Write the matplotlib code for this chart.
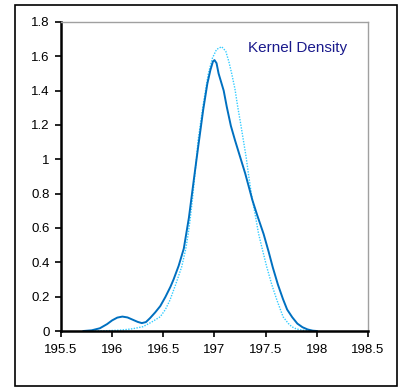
import matplotlib
matplotlib.use("Agg")
import matplotlib.pyplot as plt
from matplotlib.patches import Rectangle
from matplotlib.ticker import FuncFormatter

# kernel density estimate (solid)
kde_x = [195.72, 195.80, 195.88, 195.95, 196.00, 196.05, 196.10, 196.15, 196.20,
         196.25, 196.29, 196.33, 196.37, 196.42, 196.47, 196.52, 196.57, 196.60,
         196.65, 196.70, 196.75, 196.80, 196.84, 196.89, 196.93, 196.96,
         196.985, 197.00, 197.02, 197.04, 197.09, 197.12, 197.16, 197.20, 197.25,
         197.30, 197.34, 197.37, 197.42, 197.48, 197.53, 197.57, 197.62, 197.67,
         197.71, 197.76, 197.81, 197.86, 197.91, 197.96, 198.00]
kde_y = [0.000, 0.004, 0.016, 0.040, 0.062, 0.078, 0.084, 0.079, 0.066,
         0.053, 0.046, 0.052, 0.075, 0.108, 0.145, 0.198, 0.258, 0.300,
         0.380, 0.480, 0.660, 0.890, 1.070, 1.290, 1.440, 1.520,
         1.570, 1.578, 1.560, 1.500, 1.400, 1.306, 1.195, 1.112, 1.015,
         0.918, 0.830, 0.763, 0.670, 0.565, 0.460, 0.370, 0.270, 0.185,
         0.125, 0.080, 0.043, 0.022, 0.009, 0.002, 0.000]

# normal reference curve (dotted)
norm_x = [195.75, 195.90, 196.00, 196.10, 196.20, 196.30, 196.38, 196.47, 196.52,
          196.565, 196.62, 196.68, 196.72, 196.744, 196.76, 196.787, 196.81, 196.84,
          196.89, 196.94, 196.98, 197.02, 197.07, 197.11, 197.14, 197.168, 197.20,
          197.227, 197.255, 197.282, 197.31, 197.331, 197.36, 197.40, 197.43, 197.47,
          197.51, 197.56, 197.61, 197.67, 197.72, 197.755, 197.80, 197.85, 197.90,
          197.95]
norm_y = [0.000, 0.001, 0.003, 0.006, 0.013, 0.025, 0.050, 0.083, 0.125,
          0.180, 0.270, 0.375, 0.480, 0.569, 0.640, 0.780, 0.920, 1.112,
          1.320, 1.500, 1.590, 1.640, 1.656, 1.630, 1.570, 1.500, 1.410,
          1.306, 1.210, 1.112, 1.010, 0.918, 0.800, 0.670, 0.569, 0.470,
          0.375, 0.270, 0.180, 0.083, 0.045, 0.025, 0.012, 0.006, 0.002,
          0.000]

x_ticks = [195.5, 196, 196.5, 197, 197.5, 198, 198.5]
y_ticks = [0, 0.2, 0.4, 0.6, 0.8, 1.0, 1.2, 1.4, 1.6, 1.8]

plt.rcParams['font.family'] = ['Liberation Sans', 'DejaVu Sans']

fig = plt.figure(figsize=(4.05, 3.87), dpi=100)
fig.patches.append(Rectangle((0.037, 0.003), 0.943, 0.984, transform=fig.transFigure,
                             fill=False, edgecolor='black', linewidth=1.2))

ax = fig.add_axes([0.1506, 0.1447, 0.758, 0.7985])
ax.plot(norm_x, norm_y, color='#33CCFF', linestyle=(0, (1, 1)), linewidth=1.0,
        solid_joinstyle='round')
ax.plot(kde_x, kde_y, color='#0070C0', linewidth=1.4, solid_joinstyle='round')

ax.set_xlim(195.5, 198.5)
ax.set_ylim(0, 1.8)
ax.set_xticks(x_ticks)
ax.set_yticks(y_ticks)
ax.xaxis.set_major_formatter(FuncFormatter(lambda v, p: f"{v:g}"))
ax.yaxis.set_major_formatter(FuncFormatter(lambda v, p: f"{v:g}"))
ax.tick_params(direction='out', length=4, width=1.2, labelsize=9.5, colors='black')
ax.tick_params(axis='x', pad=5)
ax.tick_params(axis='y', pad=4)

for side in ('left', 'bottom'):
    ax.spines[side].set_color('black')
    ax.spines[side].set_linewidth(1.8)
for side in ('top', 'right'):
    ax.spines[side].set_color('#A0A0A0')
    ax.spines[side].set_linewidth(1.0)

ax.text(0.61, 0.915, "Kernel Density", transform=ax.transAxes, fontsize=11,
        color='#1A1A8C', ha='left', va='center')

fig.savefig("out.png", dpi=100)
